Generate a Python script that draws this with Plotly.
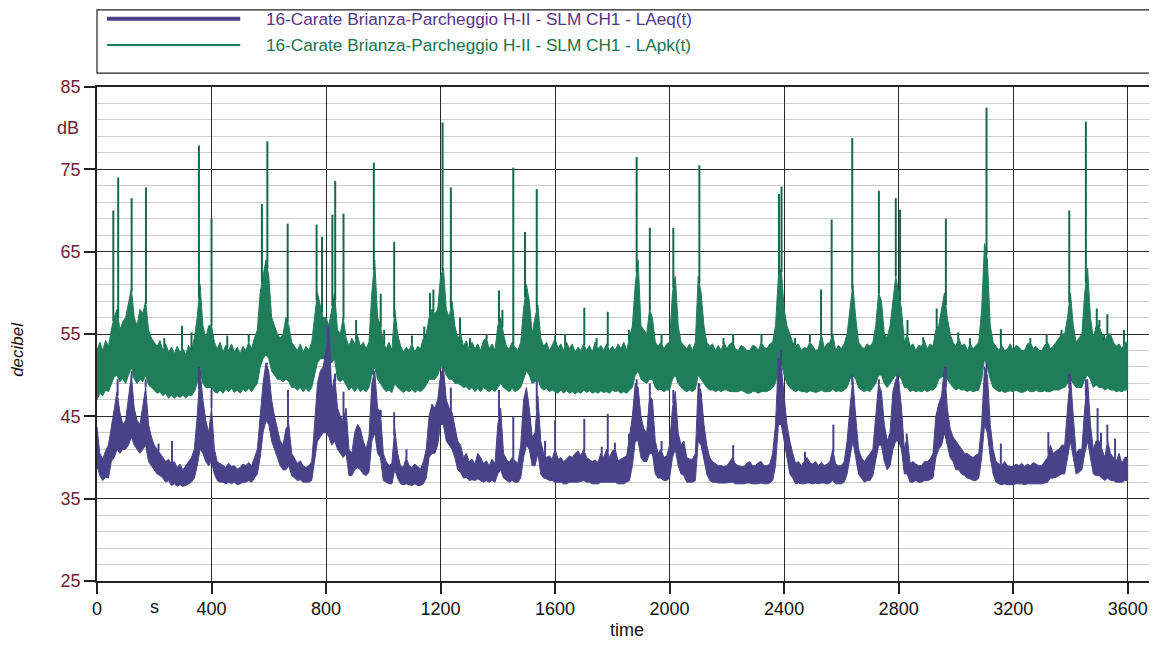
import numpy as np
import plotly.graph_objects as go

# time grid of the band envelopes (s)
time_s = list(range(0, 3601, 10))

# LApk(t) band, upper and lower envelope (dB) every 10 s, one row per 400 s
lapk_high = [
    53.0, 54.0, 53.0, 54.2, 53.5, 55.5, 57.0, 58.0, 55.5, 56.5, 57.0, 58.5, 60.5, 57.0, 56.0, 58.0, 57.5, 59.0, 55.5, 54.5, 54.0, 53.5, 54.2, 53.0, 53.8, 52.8, 53.4, 52.6, 53.5, 52.8, 53.2, 52.5, 53.6, 53.0, 54.5, 57.0, 61.0, 56.0, 54.5, 56.0,
    56.0, 54.0, 53.2, 54.0, 52.8, 53.6, 53.0, 53.8, 52.8, 53.4, 52.6, 53.5, 53.0, 54.0, 53.2, 54.5, 55.5, 60.0, 62.0, 64.0, 62.0, 57.0, 56.0, 55.0, 54.5, 55.0, 57.0, 56.0, 54.0, 53.5, 53.0, 53.8, 52.8, 53.5, 53.0, 54.0, 57.0, 60.0, 58.5, 57.0,
    57.0, 56.0, 58.0, 60.0, 55.5, 55.0, 57.0, 54.5, 53.5, 54.5, 53.8, 54.8, 53.5, 54.0, 53.2, 54.0, 60.0, 64.0, 57.0, 56.0, 54.0, 53.2, 54.0, 53.0, 58.0, 55.0, 53.6, 52.8, 53.4, 53.0, 53.8, 52.8, 53.5, 53.2, 54.5, 55.0, 57.0, 58.0, 57.5, 58.0,
    62.0, 63.0, 58.0, 57.0, 59.0, 56.0, 54.5, 55.0, 53.5, 54.2, 53.0, 54.0, 53.2, 53.8, 53.0, 54.2, 54.5, 53.2, 53.8, 53.0, 56.0, 57.0, 55.0, 53.5, 53.2, 54.0, 53.4, 53.0, 54.0, 58.0, 61.0, 59.0, 55.0, 57.0, 58.5, 54.5, 53.5, 54.0, 53.0, 53.6,
    54.5, 53.2, 53.8, 53.0, 54.0, 53.2, 53.8, 52.8, 53.4, 53.0, 53.8, 53.0, 53.6, 52.8, 54.0, 53.2, 53.6, 53.0, 53.8, 53.0, 53.5, 53.0, 53.8, 53.2, 54.0, 53.0, 54.5, 56.0, 61.0, 64.0, 56.0, 55.5, 55.0, 58.0, 57.0, 54.0, 53.5, 54.0, 53.2, 53.8,
    54.0, 60.0, 62.0, 56.0, 54.0, 53.6, 53.2, 53.8, 53.0, 54.0, 62.0, 60.0, 56.0, 54.0, 53.5, 53.8, 53.0, 53.6, 53.0, 54.0, 53.2, 53.8, 54.0, 53.2, 53.0, 53.6, 53.4, 53.0, 53.0, 53.6, 53.5, 53.0, 54.0, 53.4, 53.2, 53.8, 54.0, 56.0, 62.0, 63.0,
    58.0, 56.0, 55.0, 54.0, 53.5, 53.8, 53.0, 53.4, 53.2, 54.0, 53.5, 53.0, 53.2, 55.0, 53.3, 53.8, 54.0, 55.0, 53.0, 53.6, 53.2, 53.8, 55.0, 58.0, 61.0, 57.0, 54.0, 53.5, 53.2, 53.8, 53.5, 54.0, 56.0, 60.0, 59.0, 55.0, 54.5, 56.0, 59.0, 62.0,
    60.0, 58.0, 54.0, 55.0, 53.5, 53.8, 53.0, 53.6, 53.5, 54.2, 53.2, 53.8, 53.5, 55.5, 56.0, 58.0, 60.0, 57.0, 55.0, 54.0, 53.5, 54.5, 53.5, 53.8, 53.0, 53.8, 53.2, 53.6, 54.0, 58.0, 66.0, 64.0, 56.0, 54.0, 53.5, 53.0, 53.6, 53.0, 53.2, 53.8,
    53.0, 53.6, 53.4, 53.0, 53.0, 53.8, 54.0, 53.2, 53.5, 53.0, 53.0, 53.6, 54.0, 53.2, 53.5, 54.0, 54.5, 55.0, 55.0, 57.0, 60.0, 56.0, 54.0, 54.5, 55.0, 60.0, 63.0, 57.0, 54.5, 56.0, 56.0, 55.0, 54.0, 55.0, 55.0, 54.0, 53.5, 53.8, 53.2, 54.0, 54.0,
]
lapk_low = [
    47.0, 47.8, 47.5, 48.2, 48.0, 49.0, 49.8, 50.0, 49.2, 49.6, 49.0, 50.0, 51.0, 49.5, 49.0, 49.5, 49.2, 50.0, 48.8, 48.5, 48.2, 47.8, 48.0, 47.5, 47.8, 47.2, 47.6, 47.2, 47.5, 47.3, 47.6, 47.2, 47.6, 47.5, 48.0, 49.0, 50.5, 49.0, 48.5, 48.5,
    48.5, 48.0, 47.8, 48.2, 47.8, 48.3, 48.0, 48.4, 47.9, 48.2, 47.8, 48.3, 48.0, 48.4, 48.0, 48.5, 49.0, 51.0, 52.0, 52.5, 52.0, 50.5, 50.0, 49.5, 49.5, 49.2, 49.5, 49.2, 48.5, 48.5, 48.2, 48.5, 48.0, 48.4, 48.0, 48.5, 50.0, 51.5, 52.0, 52.0,
    52.0, 51.5, 51.5, 52.0, 49.5, 49.2, 49.5, 48.8, 48.2, 48.5, 48.0, 48.5, 48.0, 48.3, 48.0, 48.5, 50.0, 51.0, 49.5, 49.0, 48.4, 48.0, 48.2, 47.9, 49.0, 48.5, 48.2, 47.9, 48.2, 48.0, 48.3, 47.9, 48.2, 48.0, 48.3, 48.8, 49.5, 49.5, 49.5, 50.0,
    51.0, 51.0, 50.0, 49.5, 49.5, 49.0, 49.0, 48.8, 48.5, 48.6, 48.2, 48.5, 48.0, 48.4, 48.0, 48.5, 48.2, 48.0, 48.3, 48.0, 48.5, 49.0, 48.5, 48.2, 48.0, 48.4, 48.0, 48.2, 48.5, 49.5, 50.5, 50.0, 49.0, 49.2, 49.5, 48.5, 48.2, 48.4, 48.0, 48.2,
    48.0, 47.8, 48.2, 47.8, 48.2, 47.8, 48.0, 47.7, 48.0, 47.8, 48.2, 47.9, 48.1, 47.8, 48.0, 47.8, 48.1, 47.9, 48.0, 47.8, 48.2, 48.0, 48.1, 47.8, 48.0, 47.8, 48.2, 48.5, 50.0, 50.5, 49.5, 49.2, 49.0, 49.5, 49.5, 48.5, 48.2, 48.3, 48.0, 48.2,
    48.2, 49.5, 50.0, 49.0, 48.5, 48.2, 48.0, 48.2, 48.0, 48.3, 50.0, 49.5, 49.0, 48.5, 48.2, 48.2, 48.0, 48.2, 48.0, 48.2, 48.2, 48.0, 48.0, 48.0, 48.0, 48.2, 48.0, 47.8, 47.8, 48.0, 48.0, 47.8, 48.0, 48.0, 48.0, 48.2, 48.5, 49.0, 51.0, 51.5,
    50.0, 49.0, 48.5, 48.2, 48.0, 48.2, 48.0, 48.0, 47.9, 48.1, 48.0, 47.9, 48.0, 48.2, 48.0, 48.0, 48.0, 48.3, 48.0, 48.1, 48.0, 48.2, 48.5, 49.5, 50.0, 49.5, 48.5, 48.2, 48.0, 48.2, 48.0, 48.5, 49.0, 50.0, 50.0, 49.0, 48.5, 49.0, 49.5, 50.0,
    50.0, 49.5, 48.5, 48.5, 48.0, 48.2, 48.0, 48.1, 48.0, 48.2, 48.0, 48.2, 48.2, 48.5, 49.5, 49.8, 50.0, 49.5, 49.0, 48.5, 48.2, 48.4, 48.2, 48.2, 48.0, 48.2, 48.0, 48.1, 48.2, 49.5, 52.0, 51.0, 49.5, 48.5, 48.2, 48.0, 48.1, 47.9, 48.0, 48.1,
    48.0, 48.2, 48.0, 47.9, 48.0, 48.2, 48.0, 48.0, 48.2, 48.0, 48.0, 48.1, 48.0, 48.0, 48.2, 48.2, 48.2, 48.4, 48.5, 49.0, 49.5, 49.0, 48.5, 48.5, 48.5, 49.5, 50.0, 49.5, 48.5, 48.8, 48.5, 48.5, 48.2, 48.4, 48.2, 48.2, 48.0, 48.1, 48.0, 48.2, 48.2,
]

# LAeq(t) band, upper and lower envelope (dB) every 10 s, one row per 400 s
laeq_high = [
    43.7, 40.5, 39.8, 40.8, 41.5, 44.0, 46.0, 48.0, 45.5, 44.0, 44.5, 47.0, 50.0, 46.0, 44.5, 44.0, 46.0, 48.5, 44.0, 42.5, 41.5, 41.0, 40.5, 40.0, 39.5, 39.8, 39.2, 39.5, 38.8, 39.2, 38.5, 39.0, 39.5, 40.0, 41.0, 45.0, 50.5, 47.0, 44.5, 43.0,
    46.0, 41.0, 39.5, 39.2, 39.0, 38.8, 39.3, 38.9, 39.0, 38.6, 38.8, 39.2, 39.0, 39.4, 39.0, 40.0, 41.0, 45.0, 49.0, 51.5, 50.5, 47.0, 45.0, 43.5, 42.0, 41.5, 43.5, 44.0, 40.5, 40.0, 39.3, 39.6, 39.0, 38.8, 39.0, 39.5, 44.0, 49.0, 50.5, 51.0,
    53.0, 56.0, 48.0, 50.0, 46.0, 45.0, 44.5, 46.0, 41.0, 40.5, 43.0, 44.0, 43.5, 42.0, 41.0, 42.5, 49.0, 50.5, 46.0, 45.5, 40.5, 39.5, 39.0, 39.3, 43.5, 40.5, 39.0, 38.8, 40.0, 39.0, 38.8, 39.2, 38.9, 38.6, 39.5, 41.0, 45.0, 46.5, 46.0, 47.0,
    50.0, 51.0, 47.0, 46.0, 45.5, 44.0, 42.0, 41.5, 40.0, 40.5, 39.5, 39.8, 39.2, 40.5, 40.0, 39.3, 39.6, 39.0, 39.8, 39.2, 44.0, 46.0, 40.5, 39.8, 39.4, 40.0, 39.6, 39.3, 41.5, 47.0, 48.5, 46.0, 42.5, 43.0, 47.5, 42.0, 40.5, 40.0, 40.2, 39.8,
    41.0, 39.8, 40.0, 39.5, 39.8, 40.2, 40.0, 40.5, 40.8, 40.2, 41.0, 40.0, 39.8, 39.5, 39.7, 39.4, 40.5, 40.0, 41.0, 40.0, 40.8, 41.0, 39.6, 39.8, 40.0, 40.2, 42.5, 45.0, 49.0, 48.5, 45.0, 43.5, 43.0, 47.5, 47.0, 42.0, 40.5, 41.0, 40.0, 40.2,
    41.5, 46.0, 48.0, 43.0, 41.5, 42.0, 40.0, 39.8, 39.8, 40.5, 49.0, 48.0, 44.0, 41.5, 40.0, 39.5, 39.2, 39.0, 39.0, 38.9, 39.0, 39.5, 40.0, 39.2, 39.0, 38.9, 38.9, 39.3, 39.5, 39.0, 39.0, 39.4, 39.5, 39.0, 39.0, 39.2, 40.5, 44.0, 52.0, 51.0,
    48.0, 44.0, 42.0, 40.5, 39.3, 39.5, 39.0, 39.5, 40.0, 39.4, 39.2, 39.5, 39.0, 39.4, 39.0, 39.2, 39.5, 41.0, 39.2, 39.0, 39.0, 39.5, 42.0, 46.0, 49.5, 45.0, 41.0, 40.0, 39.5, 40.0, 40.5, 41.0, 45.0, 49.0, 48.0, 44.0, 42.0, 43.0, 48.0, 49.5,
    49.5, 46.0, 41.0, 42.5, 39.3, 39.5, 39.2, 39.0, 39.0, 39.5, 39.5, 39.8, 40.5, 45.0, 46.5, 47.5, 51.0, 46.0, 43.5, 42.5, 42.0, 41.5, 41.0, 40.5, 40.5, 40.2, 40.0, 40.3, 40.5, 44.0, 51.0, 50.0, 44.0, 41.0, 39.5, 39.2, 39.0, 39.5, 39.0, 38.9,
    38.9, 39.2, 39.0, 39.3, 38.9, 39.2, 39.0, 39.4, 39.2, 39.0, 39.0, 39.5, 40.0, 41.5, 40.5, 40.8, 41.0, 41.5, 41.5, 46.0, 50.0, 45.0, 40.5, 41.0, 41.0, 46.0, 49.5, 44.0, 41.0, 42.0, 42.0, 41.0, 40.0, 42.0, 40.5, 40.0, 39.5, 40.5, 39.3, 40.0, 40.0,
]
laeq_low = [
    39.0, 37.8, 37.2, 37.6, 37.5, 39.5, 40.0, 41.0, 40.5, 41.0, 41.0, 41.5, 42.5, 41.5, 41.0, 40.5, 41.0, 41.5, 39.5, 39.0, 38.5, 38.0, 37.8, 37.5, 37.0, 37.2, 36.6, 36.8, 36.5, 36.7, 36.5, 36.6, 36.8, 37.0, 37.5, 39.0, 41.0, 40.5, 39.5, 39.0,
    39.5, 38.0, 37.2, 37.0, 37.0, 36.8, 37.0, 36.8, 37.0, 36.7, 36.8, 37.0, 37.0, 37.2, 37.0, 37.5, 38.0, 40.0, 43.0, 44.5, 44.0, 42.0, 41.0, 40.0, 39.0, 38.5, 38.5, 39.0, 37.8, 37.5, 37.2, 37.3, 37.0, 37.0, 37.0, 37.2, 39.5, 42.0, 42.5, 43.0,
    43.0, 42.5, 41.5, 42.0, 41.0, 40.5, 40.0, 40.5, 37.8, 37.8, 38.5, 38.8, 38.5, 38.0, 37.8, 38.2, 42.0, 43.0, 40.5, 40.0, 37.2, 37.0, 36.8, 36.8, 38.5, 37.5, 36.8, 36.7, 36.8, 36.7, 36.6, 36.8, 36.6, 36.6, 36.8, 37.5, 40.0, 40.5, 40.5, 41.5,
    44.0, 44.0, 42.0, 41.5, 41.0, 40.0, 38.5, 38.2, 37.5, 37.6, 37.2, 37.3, 37.2, 37.4, 37.2, 37.0, 37.2, 37.0, 37.2, 37.0, 38.0, 38.5, 37.5, 37.2, 37.0, 37.2, 37.0, 37.0, 37.5, 40.0, 41.5, 41.0, 39.0, 39.0, 40.5, 38.0, 37.5, 37.4, 37.2, 37.2,
    37.0, 37.0, 37.0, 36.8, 36.8, 37.0, 37.0, 37.0, 37.0, 37.1, 37.2, 37.0, 37.0, 36.8, 36.8, 36.8, 37.0, 37.0, 37.0, 37.0, 37.0, 37.0, 36.8, 36.8, 36.8, 37.0, 37.2, 39.0, 42.0, 42.0, 40.0, 39.5, 39.5, 40.5, 40.5, 38.0, 37.5, 37.5, 37.2, 37.2,
    37.5, 40.0, 41.0, 39.0, 38.0, 37.8, 37.0, 37.0, 37.0, 37.2, 42.0, 41.5, 39.5, 38.0, 37.2, 37.0, 37.0, 36.9, 36.9, 36.9, 36.9, 37.0, 37.0, 36.8, 36.8, 36.8, 36.8, 36.9, 36.9, 36.8, 36.8, 36.8, 36.9, 36.8, 36.8, 36.9, 37.2, 39.0, 44.0, 44.0,
    42.0, 40.0, 38.0, 37.5, 36.8, 36.9, 36.8, 36.8, 36.9, 36.9, 36.8, 36.9, 36.8, 36.9, 36.9, 36.8, 36.9, 37.2, 36.8, 36.8, 36.8, 37.0, 38.0, 40.0, 42.0, 40.0, 38.0, 37.5, 37.0, 37.2, 37.2, 37.8, 39.5, 41.5, 41.5, 39.5, 38.5, 39.0, 41.0, 42.0,
    42.0, 41.0, 38.0, 38.0, 37.0, 37.0, 37.2, 37.0, 37.0, 37.2, 37.2, 37.3, 37.5, 40.0, 41.0, 41.5, 43.0, 41.5, 40.0, 39.5, 38.5, 38.5, 38.0, 37.8, 37.5, 37.4, 37.2, 37.2, 37.5, 40.0, 44.0, 43.0, 40.0, 38.0, 37.0, 36.8, 36.7, 36.8, 36.7, 36.7,
    36.7, 36.8, 36.8, 36.8, 36.7, 36.8, 36.8, 36.8, 36.8, 36.8, 36.8, 36.9, 37.0, 37.5, 37.5, 37.6, 37.8, 38.0, 38.0, 40.0, 42.0, 40.0, 38.0, 38.2, 38.5, 40.5, 42.0, 40.0, 38.0, 37.8, 37.8, 37.5, 37.2, 37.5, 37.2, 37.2, 37.0, 37.0, 37.0, 37.2, 37.2,
]

# narrow peaks on top of the bands: time (s) and peak level (dB)
lapk_peak_time = [57, 74, 121, 171, 235, 297, 330, 356, 400, 455, 530, 576, 595, 666, 767, 786, 822, 832, 861, 905,
                  967, 991, 1003, 1038, 1100, 1143, 1163, 1175, 1207, 1236, 1268, 1303, 1361, 1404, 1416, 1454, 1495,
                  1536, 1600, 1635, 1702, 1745, 1784, 1858, 1885, 1931, 1972, 2013, 2104, 2188, 2222, 2321, 2382, 2391,
                  2438, 2490, 2529, 2566, 2638, 2731, 2790, 2805, 2831, 2886, 2933, 2965, 3008, 3049, 3107, 3157, 3260,
                  3317, 3369, 3396, 3454, 3492, 3501, 3518, 3529, 3587]
lapk_peak_db = [70.0, 74.0, 71.5, 72.8, 54.5, 56.0, 55.2, 77.9, 69.0, 54.8, 55.0, 70.8, 78.4, 68.4, 68.3, 66.8, 69.5, 73.6, 69.6, 56.7,
                75.8, 59.9, 55.5, 66.2, 54.8, 55.9, 60.0, 60.4, 80.7, 72.8, 57.0, 54.5, 55.0, 60.3, 57.9, 75.2, 67.4,
                72.6, 54.8, 55.0, 58.2, 54.5, 57.7, 55.5, 76.5, 67.9, 55.0, 67.9, 75.5, 54.5, 55.0, 55.0, 72.0, 72.9,
                54.5, 55.0, 60.4, 68.9, 78.8, 72.4, 71.5, 70.1, 56.7, 54.6, 58.1, 69.0, 55.2, 54.5, 82.5, 55.6, 54.5,
                55.0, 55.5, 70.0, 80.8, 58.1, 56.7, 55.0, 57.4, 55.5]

laeq_peak_time = [72, 121, 170, 215, 262, 356, 400, 593, 667, 805, 832, 861, 967, 991, 1038, 1081, 1207, 1236, 1404,
                  1454, 1536, 1565, 1600, 1702, 1763, 1784, 1809, 1858, 1885, 1931, 1972, 2013, 2048, 2104, 2222,
                  2389, 2473, 2572, 2638, 2731, 2795, 2828, 2965, 3107, 3157, 3323, 3396, 3454, 3495, 3507, 3529, 3556]
laeq_peak_db = [49.5, 50.5, 49.5, 41.7, 42.0, 51.0, 48.2, 51.5, 48.2, 56.0, 50.2, 48.0, 50.5, 45.8, 45.5, 41.0, 51.0, 48.5, 48.2,
                45.0, 49.4, 42.0, 44.5, 44.7, 41.3, 45.3, 41.8, 42.9, 49.5, 49.0, 42.0, 48.2, 41.8, 49.0, 41.5,
                53.0, 40.7, 44.0, 50.0, 49.5, 50.0, 42.9, 51.0, 51.5, 41.7, 43.1, 50.2, 49.5, 46.0, 43.0, 44.0, 42.3]

for arr in (lapk_high, lapk_low, laeq_high, laeq_low):
    assert len(arr) == len(time_s), len(arr)

PURPLE = "#4a4288"
GREEN = "#1f7d5b"
GREEN_PEAK = "#17694c"
MAROON = "#6e2233"
FONT = "Liberation Sans, Arial, sans-serif"


def band(t, low, high, color, width):
    return go.Scatter(x=t + t[::-1], y=low + high[::-1], mode="lines", fill="toself",
                      fillcolor=color, line=dict(color=color, width=width),
                      showlegend=False, hoverinfo="skip")


def peaks(t, high, pt, pdb, color, width):
    xs, ys = [], []
    for x, v in zip(pt, pdb):
        base = float(np.interp(x, t, high))
        xs += [x, x, None]
        ys += [base, v, None]
    return go.Scatter(x=xs, y=ys, mode="lines", line=dict(color=color, width=width),
                      showlegend=False, hoverinfo="skip")


fig = go.Figure()
fig.add_trace(band(time_s, lapk_low, lapk_high, GREEN, 1))
fig.add_trace(peaks(time_s, lapk_high, lapk_peak_time, lapk_peak_db, GREEN_PEAK, 2))
fig.add_trace(band(time_s, laeq_low, laeq_high, PURPLE, 1))
fig.add_trace(peaks(time_s, laeq_high, laeq_peak_time, laeq_peak_db, PURPLE, 2))

# legend box drawn by hand (long line samples, full width frame)
fig.add_shape(type="rect", xref="paper", yref="paper", x0=0, x1=1, y0=1.028, y1=1.156,
              line=dict(color="#222", width=1.2))
fig.add_shape(type="line", xref="paper", yref="paper", x0=0.0095, x1=0.136, y0=1.138, y1=1.138,
              line=dict(color=PURPLE, width=4))
fig.add_shape(type="line", xref="paper", yref="paper", x0=0.0095, x1=0.136, y0=1.085, y1=1.085,
              line=dict(color=GREEN, width=2))
fig.add_annotation(xref="paper", yref="paper", x=0.159, y=1.138, xanchor="left", yanchor="middle",
                   text="16-Carate Brianza-Parcheggio H-II - SLM CH1 - LAeq(t)", showarrow=False,
                   font=dict(size=17.2, color="#55358a", family=FONT))
fig.add_annotation(xref="paper", yref="paper", x=0.159, y=1.085, xanchor="left", yanchor="middle",
                   text="16-Carate Brianza-Parcheggio H-II - SLM CH1 - LApk(t)", showarrow=False,
                   font=dict(size=17.2, color="#16744e", family=FONT))

# unit labels and axis titles
fig.add_annotation(xref="paper", yref="paper", x=-0.0275, y=0.917, text="dB", showarrow=False,
                   xanchor="center", yanchor="middle", font=dict(size=18, color=MAROON, family=FONT))
fig.add_annotation(xref="paper", yref="paper", x=0.055, y=-0.053, text="s", showarrow=False,
                   xanchor="center", yanchor="middle", font=dict(size=18, color="#111", family=FONT))
fig.add_annotation(xref="paper", yref="paper", x=0.503, y=-0.099, text="time", showarrow=False,
                   xanchor="center", yanchor="middle", font=dict(size=18, color="#111", family=FONT))
fig.add_annotation(xref="paper", yref="paper", x=-0.075, y=0.468, text="<i>decibel</i>", showarrow=False,
                   xanchor="center", yanchor="middle", textangle=-90,
                   font=dict(size=17, color="#111", family=FONT))

# the page body adds an 8 px offset, so the figure is 8 px smaller and margins shifted
fig.update_layout(
    width=1149, height=637,
    margin=dict(l=89, r=7, t=79, b=64),
    plot_bgcolor="white", paper_bgcolor="white",
    font=dict(family=FONT, size=18, color="#111"),
)
fig.update_xaxes(
    range=[0, 3678], tick0=0, dtick=400, ticks="outside", ticklen=11, tickwidth=1.5, tickcolor="#222",
    showgrid=True, gridcolor="#2a2a2a", gridwidth=1.3, zeroline=False, automargin=False,
    showline=True, linecolor="#222", linewidth=1.5, mirror=True,
    tickfont=dict(size=18, color="#111"),
)
fig.update_yaxes(
    range=[25, 85], tick0=25, dtick=10, ticks="outside", ticklen=11, tickwidth=1.5, tickcolor="#222",
    showgrid=True, gridcolor="#2a2a2a", gridwidth=1.3, zeroline=False, automargin=False,
    showline=True, linecolor="#222", linewidth=1.5, mirror=True,
    minor=dict(tick0=25, dtick=2, showgrid=True, gridcolor="#cdcdcd", gridwidth=1),
    tickfont=dict(size=18, color=MAROON),
)

fig.write_html("out.html")
